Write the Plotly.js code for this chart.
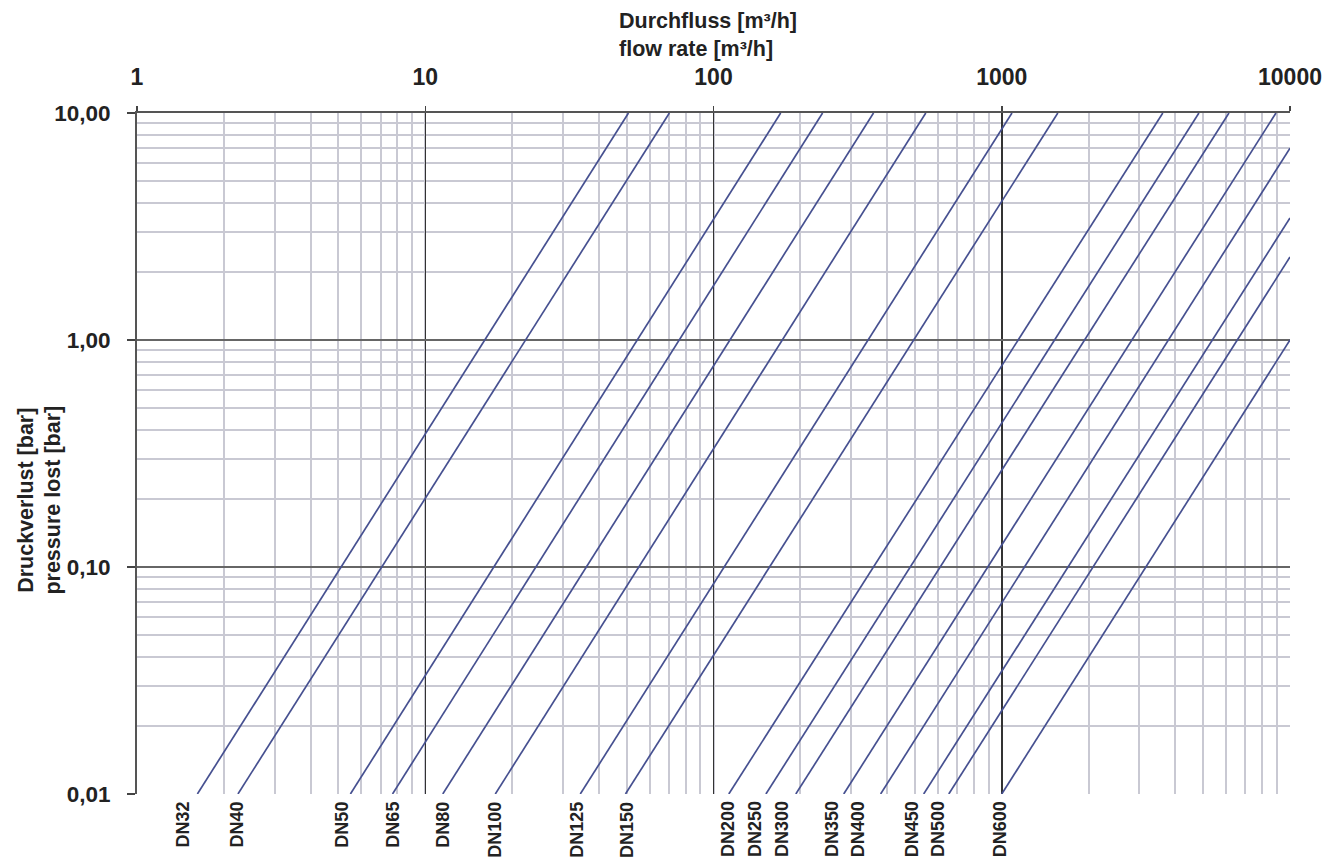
<!DOCTYPE html>
<html>
<head>
<meta charset="utf-8">
<script src="https://cdn.plot.ly/plotly-3.0.1.min.js"></script>
<style>html,body{margin:0;padding:0;background:#fff;}#chart{width:1337px;height:861px;}</style>
</head>
<body>
<div id="chart"></div>
<script>
// Nominal diameters
const dnLabels = ['DN32','DN40','DN50','DN65','DN80','DN100','DN125','DN150','DN200','DN250','DN300','DN350','DN400','DN450','DN500','DN600'];
// Flow rate [m³/h] where each line starts at 0,01 bar
const qStart = [1.62, 2.24, 5.5, 7.7, 11.5, 17.5, 34.5, 49.5, 113, 152, 193, 283, 380, 536, 655, 1000];
const pStart = [0.01, 0.01, 0.01, 0.01, 0.01, 0.01, 0.01, 0.01, 0.01, 0.01, 0.01, 0.01, 0.01, 0.01, 0.01, 0.01];
// Where each line leaves the chart (top edge 10 bar or right edge 10000 m³/h)
const qEnd = [50.7, 70.3, 171, 239, 359, 545, 1085, 1565, 3620, 4830, 6140, 8940, 10000, 10000, 10000, 10000];
const pEnd = [10, 10, 10, 10, 10, 10, 10, 10, 10, 10, 10, 10, 7.0, 3.45, 2.32, 1.0];
// Flow rate positions of the DN labels under the chart
const labelQ = [1.445, 2.225, 5.15, 7.74, 11.55, 17.5, 33.7, 50.3, 112.8, 140, 173.6, 259, 319, 491, 604, 993];

// Axis ticks
const xTickVals = [1, 10, 100, 1000, 10000];
const xTickText = ['1', '10', '100', '1000', '10000'];
const yTickVals = [0.01, 0.1, 1, 10];
const yTickText = ['0,01', '0,10', '1,00', '10,00'];

const xTitle = ['Durchfluss [m³/h]', 'flow rate [m³/h]'];
const yTitle = ['Druckverlust [bar]', 'pressure lost [bar]'];

const lineColor = '#465090';
const traces = dnLabels.map((name, i) => ({
  type: 'scatter', mode: 'lines', name: name,
  x: [qStart[i], qEnd[i]], y: [pStart[i], pEnd[i]],
  line: {color: lineColor, width: 1.7},
  hoverinfo: 'x+y+name'
}));

const fontFam = '"Liberation Sans", Arial, sans-serif';
const annotations = dnLabels.map((name, i) => ({
  x: Math.log10(labelQ[i]), xref: 'x', y: -0.008, yref: 'paper',
  text: '<b>' + name + '</b>', showarrow: false, textangle: -90,
  xanchor: 'center', yanchor: 'top',
  font: {family: fontFam, size: 18, color: '#222'}
}));
annotations.push({
  x: 0.4163, xref: 'paper', y: 1.156, yref: 'paper', xanchor: 'left', yanchor: 'top', align: 'left',
  text: xTitle.map(t => '<b>' + t + '</b>').join('<br>'), showarrow: false,
  font: {family: fontFam, size: 21.5, color: '#222'}
});
annotations.push({
  x: -0.0845, xref: 'paper', y: 0.4317, yref: 'paper', xanchor: 'center', yanchor: 'middle',
  text: yTitle.map(t => '<b>' + t + '</b>').join('<br>'), showarrow: false, textangle: -90,
  font: {family: fontFam, size: 21.5, color: '#222'}
});

const layout = {
  width: 1337, height: 861,
  margin: {l: 137, r: 47, t: 113, b: 67},
  paper_bgcolor: '#fff', plot_bgcolor: '#fff',
  showlegend: false,
  font: {family: fontFam, color: '#222'},
  xaxis: {
    type: 'log', side: 'top', range: [0, 4],
    tickmode: 'array', tickvals: xTickVals, ticktext: xTickText,
    ticks: 'outside', ticklen: 5, tickwidth: 1.5, tickcolor: '#444',
    showline: true, linecolor: '#555', linewidth: 2,
    showgrid: true, gridcolor: '#333', gridwidth: 1.5,
    minor: {dtick: 'D1', showgrid: true, gridcolor: '#c9c9d3', gridwidth: 2, ticks: ''},
    tickfont: {family: fontFam, size: 23, color: '#222', weight: 'bold'},
    ticklabelstandoff: 12, zeroline: false, fixedrange: true
  },
  yaxis: {
    type: 'log', range: [-2, 1],
    tickmode: 'array', tickvals: yTickVals, ticktext: yTickText,
    ticks: 'outside', ticklen: 8, tickwidth: 1.5, tickcolor: '#444',
    showline: true, linecolor: '#555', linewidth: 2,
    showgrid: true, gridcolor: '#666', gridwidth: 2,
    minor: {dtick: 'D1', showgrid: true, gridcolor: '#c9c9d3', gridwidth: 2, ticks: ''},
    tickfont: {family: fontFam, size: 22.5, color: '#222', weight: 'bold'},
    ticklabelstandoff: 12, zeroline: false, fixedrange: true
  },
  annotations: annotations
};

Plotly.newPlot('chart', traces, layout, {displayModeBar: false, staticPlot: true});
</script>
</body>
</html>
